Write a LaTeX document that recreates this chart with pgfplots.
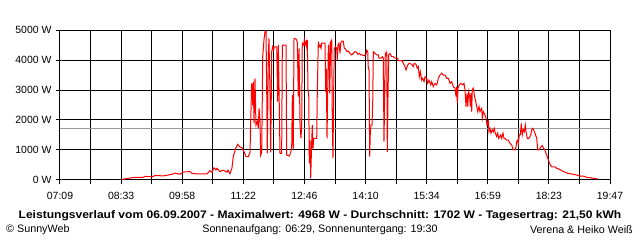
\documentclass[border=0pt]{standalone}
\usepackage{pgfplots}
\pgfplotsset{compat=1.18}
\usepackage{fontspec}
\setmainfont{Liberation Sans}
\begin{document}
\begin{tikzpicture}
\useasboundingbox (0,0) rectangle (640bp,240bp);
\begin{axis}[
  at={(60bp,60bp)}, anchor=south west,
  width=550bp, height=150bp, scale only axis,
  xmin=429, xmax=1187, ymin=0, ymax=5000,
  axis line style={black, line width=1bp},
  grid=major, grid style={black, line width=1bp},
  xtick={429,471.11,513.22,555.33,597.44,639.56,681.67,723.78,765.89,808,850.11,892.22,934.33,976.44,1018.56,1060.67,1102.78,1144.89,1187},
  xticklabels={07:09,,08:33,,09:58,,11:22,,12:46,,14:10,,15:34,,16:59,,18:23,,19:47},
  ytick={0,1000,2000,3000,4000,5000},
  yticklabels={0 W,1000 W,2000 W,3000 W,4000 W,5000 W},
  xtick pos=bottom, ytick pos=left,
  tick align=outside, major tick length=4bp,
  tick style={black, line width=1bp},
  tick label style={font=\fontsize{10.5}{12}\selectfont},
  xticklabel style={yshift=-5bp},
  yticklabel style={xshift=-1bp},
  clip=true,
]
\addplot[gray!80, line width=1bp] coordinates {(429,1702) (1187,1702)};
\addplot[red, line width=1bp, sharp plot] table {
514.4 20
522.7 55
532.4 90
543.4 90
546.1 120
557.2 110
559.9 155
571.0 135
583.4 190
587.5 230
594.4 190
598.5 265
608.2 280
610.9 220
619.2 200
631.6 200
635.7 310
638.5 260
641.2 410
644.0 330
645.4 390
649.5 280
653.6 330
659.2 260
660.5 330
663.3 210
666.0 400
667.8 780
671.1 1050
673.9 1190
677.1 1100
680.2 1070
683.0 920
685.3 780
688.5 780
690.9 920
691.8 1950
693.2 3220
694.6 2500
695.4 3280
696.4 1890
697.7 3390
699.1 1830
700.9 1950
702.3 1720
703.3 2390
704.6 2000
705.6 830
707.0 930
708.4 4110
710.1 4670
711.5 4940
712.9 4968
713.9 2940
714.7 890
716.1 4170
717.0 4720
718.4 2940
719.4 920
720.8 4280
722.1 4440
723.5 4330
724.3 4440
727.7 4440
729.0 2610
729.9 4500
731.2 2500
732.2 890
734.5 890
735.4 4500
740.5 4500
741.4 830
745.0 800
747.0 920
748.3 1050
749.2 2830
750.5 1050
751.5 4720
754.2 4700
756.0 4610
757.4 2780
758.4 4390
759.8 1830
761.1 1390
762.1 1830
762.9 4560
764.9 4500
765.7 4670
766.7 4500
768.0 4610
769.0 4440
769.8 4670
770.8 3000
771.8 2830
772.6 555
773.5 1330
774.5 55
775.9 1280
776.7 1830
777.7 1050
778.6 1390
782.8 1390
783.6 2890
785.0 4610
785.9 4440
787.3 4500
788.7 4390
789.7 4560
794.2 4560
795.2 2940
796.0 3720
797.0 1390
797.9 2890
798.8 4440
799.7 4500
800.7 2890
802.1 4610
803.5 4670
804.3 1950
805.2 720
806.2 3000
807.0 4390
809.0 4440
810.3 4390
811.2 4000
812.1 4500
813.5 4560
814.9 4220
815.9 4560
817.2 4630
819.4 4630
820.8 4390
822.7 4360
824.5 4280
826.3 4300
828.7 4220
831.0 4170
833.2 4220
835.6 4280
837.9 4260
839.3 4190
841.5 4220
843.4 4170
845.6 4170
848.0 4140
850.7 4190
851.7 4330
853.1 4280
853.9 3720
854.9 3670
855.8 780
856.7 1610
857.6 1830
859.0 1830
860.0 2610
860.8 4280
863.1 4220
865.5 4170
867.7 4170
868.6 4060
871.4 4060
873.2 4110
874.6 4060
875.5 1280
876.5 2780
877.3 4220
878.3 4170
879.3 4250
880.1 940
881.0 2700
882.0 4170
883.8 4220
886.1 4110
888.4 4110
890.7 4060
894.4 4060
895.2 3980
899.9 3980
902.1 3890
904.5 3780
905.9 3670
908.2 3830
910.0 3890
913.7 3860
915.9 3780
917.3 3890
919.6 3860
921.4 3720
922.8 3780
924.2 3440
925.6 3610
927.5 3330
928.9 3390
930.7 3280
932.0 3440
934.4 3390
935.8 3220
937.5 3330
939.9 3170
941.3 3280
943.5 3110
945.8 3220
948.2 3170
950.4 3390
952.7 3500
955.1 3560
957.3 3500
959.6 3500
961.9 3390
964.2 3390
966.5 3220
968.8 3280
971.0 3110
973.4 3060
974.8 2780
975.7 3110
976.6 2560
977.5 3060
979.3 3170
981.7 3220
984.0 3170
985.8 3220
987.2 3000
988.5 2450
989.9 2890
990.9 2450
992.3 2940
993.6 2780
994.5 2450
995.4 2890
996.4 2280
997.2 3000
998.6 3060
1000.0 2830
1001.4 2670
1003.3 2450
1004.7 2280
1006.5 2450
1007.8 2280
1010.2 2390
1011.0 2060
1012.4 2280
1014.7 2170
1016.1 2060
1017.5 1830
1019.3 1950
1020.2 1610
1021.6 1720
1023.0 1560
1024.8 1670
1026.2 1610
1027.5 1720
1028.9 1560
1030.8 1450
1032.2 1560
1033.6 1390
1035.0 1450
1036.4 1500
1037.7 1390
1039.5 1560
1040.9 1390
1042.3 1390
1044.6 1330
1046.8 1330
1049.2 1220
1051.5 1170
1053.7 1000
1056.1 1000
1057.5 1110
1058.4 1280
1059.8 1330
1060.6 1220
1062.0 1500
1063.4 1500
1064.8 1890
1066.1 1500
1067.5 1670
1068.9 1610
1070.3 1830
1071.6 1560
1073.0 1390
1075.4 1390
1077.7 1500
1079.1 1670
1080.5 1720
1081.8 1670
1083.6 1560
1086.0 1390
1087.4 1000
1089.2 1000
1091.9 1110
1093.7 1150
1095.6 1050
1097.4 1000
1098.8 890
1100.6 780
1102.0 670
1104.3 520
1106.7 440
1111.2 440
1113.5 390
1117.1 360
1120.4 310
1125.0 260
1129.5 220
1134.2 200
1141.1 167
1145.7 133
1150.2 133
1154.9 89
1159.4 78
1170.1 33
};
\end{axis}
\node[font=\bfseries\fontsize{11}{12}\selectfont] at (320bp,24bp) {\scalebox{1.1}[1]{Leistungsverlauf vom 06.09.2007 - Maximalwert: 4968 W - Durchschnitt: 1702 W - Tagesertrag: 21,50 kWh}};
\node[anchor=west, font=\fontsize{10.8}{12}\selectfont, inner sep=0pt] at (6bp,10bp) {\textcopyright\ SunnyWeb};
\node[font=\fontsize{10.8}{12}\selectfont, inner sep=0pt] at (320bp,10bp) {Sonnenaufgang: 06:29, Sonnenuntergang: 19:30};
\node[anchor=east, font=\fontsize{10.8}{12}\selectfont, inner sep=0pt] at (633bp,10bp) {Verena \& Heiko Weiß};
\end{tikzpicture}
\end{document}
